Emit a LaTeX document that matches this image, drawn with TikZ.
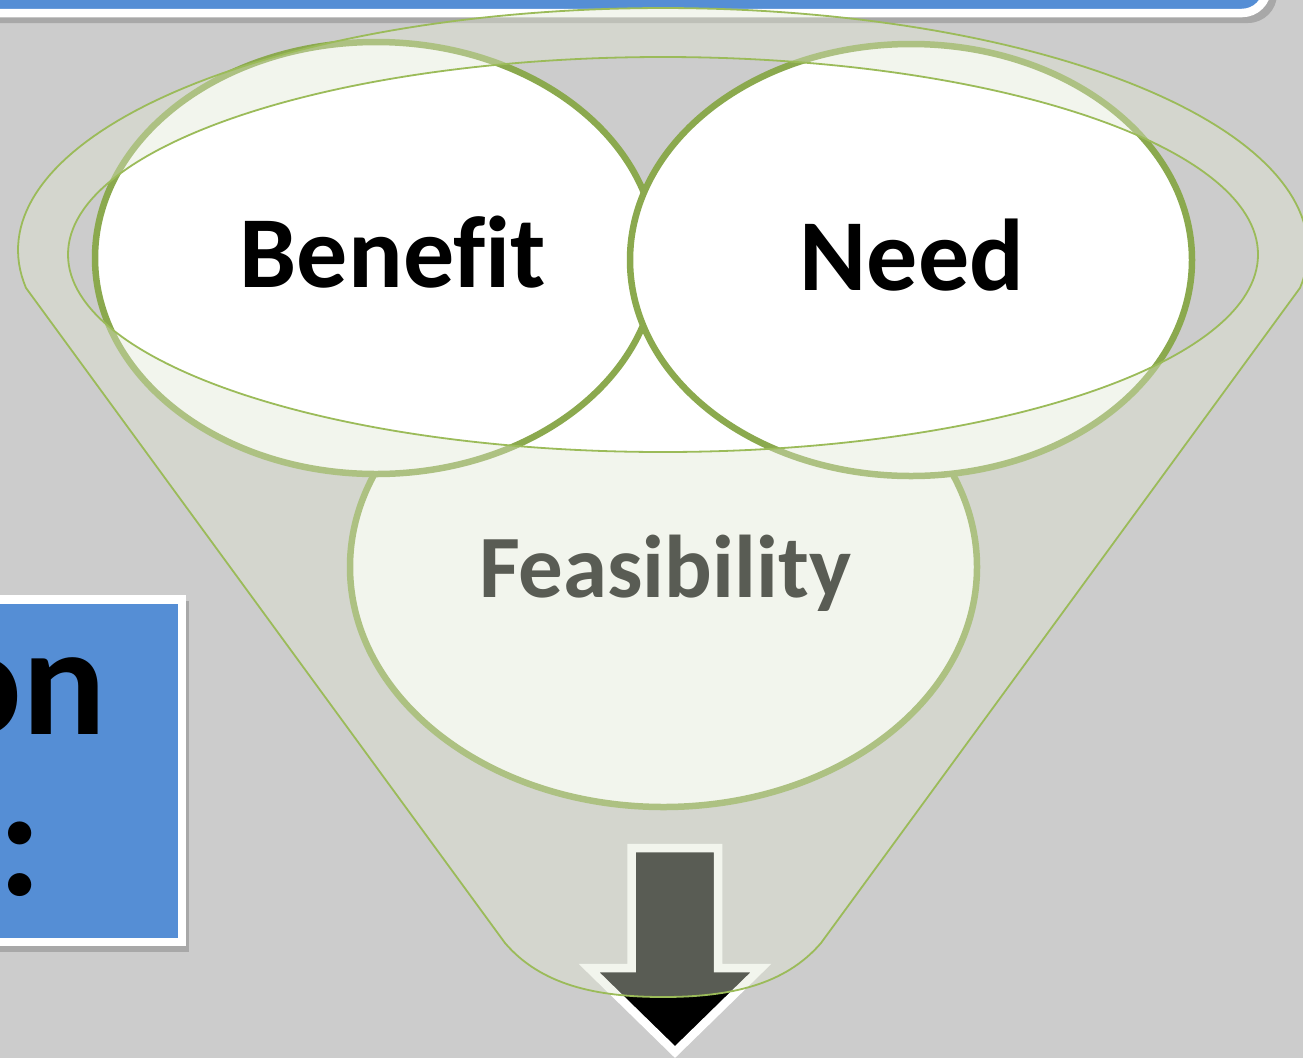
\documentclass[tikz,border=0pt]{standalone}
\usepackage{fontspec}
\setmainfont{Carlito}[Ligatures=NoCommon]
\usetikzlibrary{shapes.geometric}
\definecolor{bg}{HTML}{CCCCCC}
\definecolor{banner}{HTML}{558ED5}
\definecolor{ring}{HTML}{8BA94E}
\definecolor{funnelline}{HTML}{9BBB59}
\definecolor{funnelfill}{HTML}{E0E6D2}
\definecolor{shadowc}{HTML}{A8A8A8}
\begin{document}
\begin{tikzpicture}[x=1pt,y=-1pt,
  bubble/.style={ellipse, draw=ring, line width=6.5pt, fill=white, inner sep=0pt, outer sep=0pt},
  lbl/.style={text=black, inner sep=0pt, anchor=base},
  bigfont/.style={font=\bfseries\fontsize{102}{108}\selectfont},
  midfont/.style={font=\bfseries\fontsize{89}{95}\selectfont},
  boxfont/.style={font=\bfseries\fontsize{156}{160}\selectfont},
  panel/.style={fill=banner, draw=white, line width=8.5pt},
  funnelstyle/.style={draw=funnelline, line width=1.8pt, fill=funnelfill, fill opacity=0.4, even odd rule},
  arrowstyle/.style={fill=black, draw=white, line width=8.5pt, line join=miter}
 ]
\useasboundingbox (0,0) rectangle (1303,1058);
\fill[bg] (0,0) rectangle (1303,1058);

% top banner
\fill[shadowc, rounded corners=29pt] (-30,-40) rectangle (1277,23);
\draw[panel, rounded corners=25pt] (-30,-40) rectangle (1267,13);

% left box
\fill[shadowc] (-17,601) rectangle (189,952);
\draw[panel] (-20,599.5) rectangle (182,942);
\node[lbl, boxfont, anchor=base east] (on) at (106,734) {on};
\node[lbl, boxfont, anchor=base east] (colon) at (42,895) {:};

% circles
\node[bubble, minimum width=627pt, minimum height=480pt] (feas) at (663.5,567) {};
\node[bubble, minimum width=562pt, minimum height=432pt] (benefit) at (376,258) {};
\node[bubble, minimum width=562pt, minimum height=432pt] (need) at (911,260) {};
\node[lbl, bigfont] (tben) at (393,287) {Benefit};
\node[lbl, bigfont] (tneed) at (912,290) {Need};
\node[lbl, midfont] (tfeas) at (665,597) {Feasibility};

% arrow
\draw[arrowstyle] (631.5,848) -- (718,848) -- (718,968) -- (761,968) -- (675,1052) -- (589,968) -- (631.5,968) -- cycle;

% funnel
\path[funnelstyle] plot[domain=171:369, samples=140] ({663+645*cos(\x)},{250+242*sin(\x)})
  -- (821,943) .. controls (785,985) and (730,997) .. (663,997)
  .. controls (596,997) and (541,985) .. (505,943) -- cycle
  (663,254.5) ellipse [x radius=595pt, y radius=197.5pt];
\end{tikzpicture}
\end{document}
